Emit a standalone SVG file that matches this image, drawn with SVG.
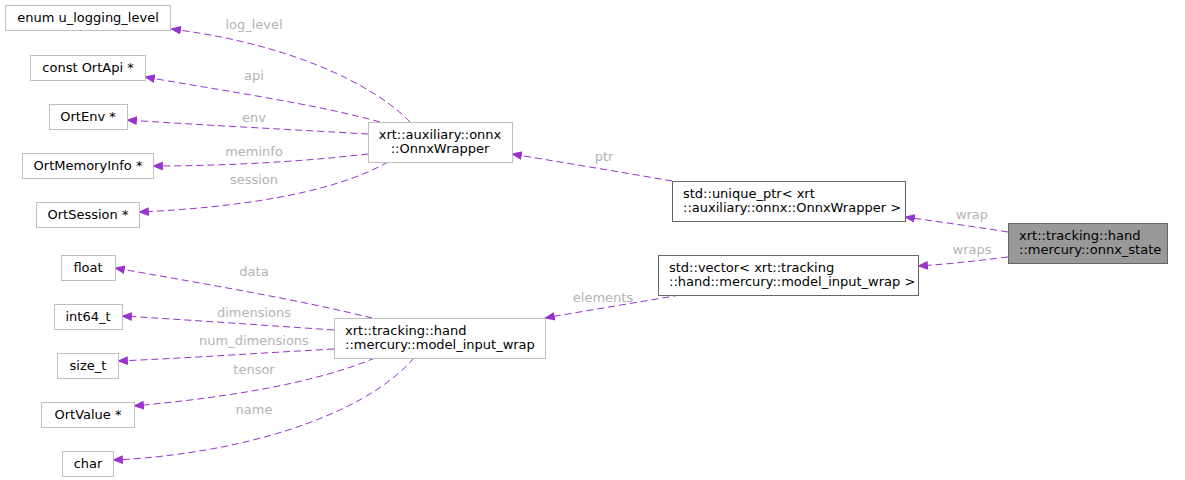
<svg xmlns="http://www.w3.org/2000/svg" width="1185" height="480" viewBox="0 0 1185 480">
<style>
.n rect{fill:#fff;stroke:#bfbfbf;stroke-width:1}
.d rect{stroke:#666}
.m rect{fill:#999;stroke:#666}
text{font-family:"DejaVu Sans",sans-serif;font-size:13px;fill:#000}
.e path{fill:none;stroke:#9a32cd;stroke-dasharray:7,4;stroke-width:1;marker-end:url(#a)}
.e text{fill:#b3b3b3;text-anchor:middle}
</style>
<defs><marker id="a" viewBox="0 0 10 10" refX="9" refY="5" markerWidth="11" markerHeight="11" markerUnits="userSpaceOnUse" orient="auto"><path d="M0,1L10,5L0,9z" fill="#9a32cd"/></marker></defs>
<g class="e">
<path d="M410,122C380,90 300,45 171,29"/><text x="254" y="29">log_level</text>
<path d="M380,122C320,105 220,90 145,77"/><text x="254" y="80">api</text>
<path d="M368,134C300,130 200,125 127,120"/><text x="254" y="122">env</text>
<path d="M368,154C300,162 220,166 153,166"/><text x="254" y="156">meminfo</text>
<path d="M388,162C330,195 230,208 139,212"/><text x="254" y="184">session</text>
<path d="M672,181C620,172 560,162 512,154"/><text x="604" y="161">ptr</text>
<path d="M1008,232C970,226 940,222 905,217"/><text x="972" y="219">wrap</text>
<path d="M1008,257C975,261 950,264 918,266"/><text x="972" y="254">wraps</text>
<path d="M680,295C640,302 590,310 545,318"/><text x="603" y="302">elements</text>
<path d="M372,318C300,300 200,283 115,268"/><text x="254" y="276">data</text>
<path d="M334,330C260,325 190,320 122,316"/><text x="254" y="317">dimensions</text>
<path d="M334,349C260,353 190,358 118,361"/><text x="254" y="345">num_dimensions</text>
<path d="M375,358C310,385 220,398 134,406"/><text x="254" y="374">tensor</text>
<path d="M414,358C360,420 230,455 113,460"/><text x="254" y="414">name</text>
</g>
<g id="n1" class="n"><rect x="5.5" y="5.5" width="165" height="25"/><text x="88" y="22" text-anchor="middle">enum u_logging_level</text></g>
<g id="n2" class="n"><rect x="30.5" y="55.5" width="115" height="25"/><text x="88" y="72" text-anchor="middle">const OrtApi *</text></g>
<g id="n3" class="n"><rect x="49.5" y="104.5" width="78" height="25"/><text x="88" y="121" text-anchor="middle">OrtEnv *</text></g>
<g id="n4" class="n"><rect x="22.5" y="153.5" width="131" height="25"/><text x="88" y="170" text-anchor="middle">OrtMemoryInfo *</text></g>
<g id="n5" class="n"><rect x="36.5" y="202.5" width="103" height="25"/><text x="88" y="219" text-anchor="middle">OrtSession *</text></g>
<g id="n6" class="n"><rect x="61.5" y="255.5" width="54" height="25"/><text x="88" y="272" text-anchor="middle">float</text></g>
<g id="n7" class="n"><rect x="54.5" y="304.5" width="68" height="25"/><text x="88" y="321" text-anchor="middle">int64_t</text></g>
<g id="n8" class="n"><rect x="57.5" y="353.5" width="61" height="25"/><text x="88" y="370" text-anchor="middle">size_t</text></g>
<g id="n9" class="n"><rect x="41.5" y="402.5" width="93" height="25"/><text x="88" y="419" text-anchor="middle">OrtValue *</text></g>
<g id="n10" class="n"><rect x="62.5" y="451.5" width="51" height="25"/><text x="88" y="468" text-anchor="middle">char</text></g>
<g id="onnxwrapper" class="n"><rect x="368.5" y="122.5" width="144" height="40"/><text x="440" y="139" text-anchor="middle">xrt::auxiliary::onnx</text><text x="440" y="153" text-anchor="middle">::OnnxWrapper</text></g>
<g id="modelinputwrap" class="n"><rect x="334.5" y="318.5" width="211" height="40"/><text x="345" y="335">xrt::tracking::hand</text><text x="345" y="349">::mercury::model_input_wrap</text></g>
<g id="uniqueptr" class="n d"><rect x="672.5" y="181.5" width="233" height="40"/><text x="683" y="198">std::unique_ptr&lt; xrt</text><text x="683" y="212">::auxiliary::onnx::OnnxWrapper &gt;</text></g>
<g id="vector" class="n d"><rect x="658.5" y="255.5" width="260" height="40"/><text x="669" y="272">std::vector&lt; xrt::tracking</text><text x="669" y="286">::hand::mercury::model_input_wrap &gt;</text></g>
<g id="onnxstate" class="n m"><rect x="1008.5" y="223.5" width="159" height="40"/><text x="1019" y="240">xrt::tracking::hand</text><text x="1019" y="254">::mercury::onnx_state</text></g>
</svg>
